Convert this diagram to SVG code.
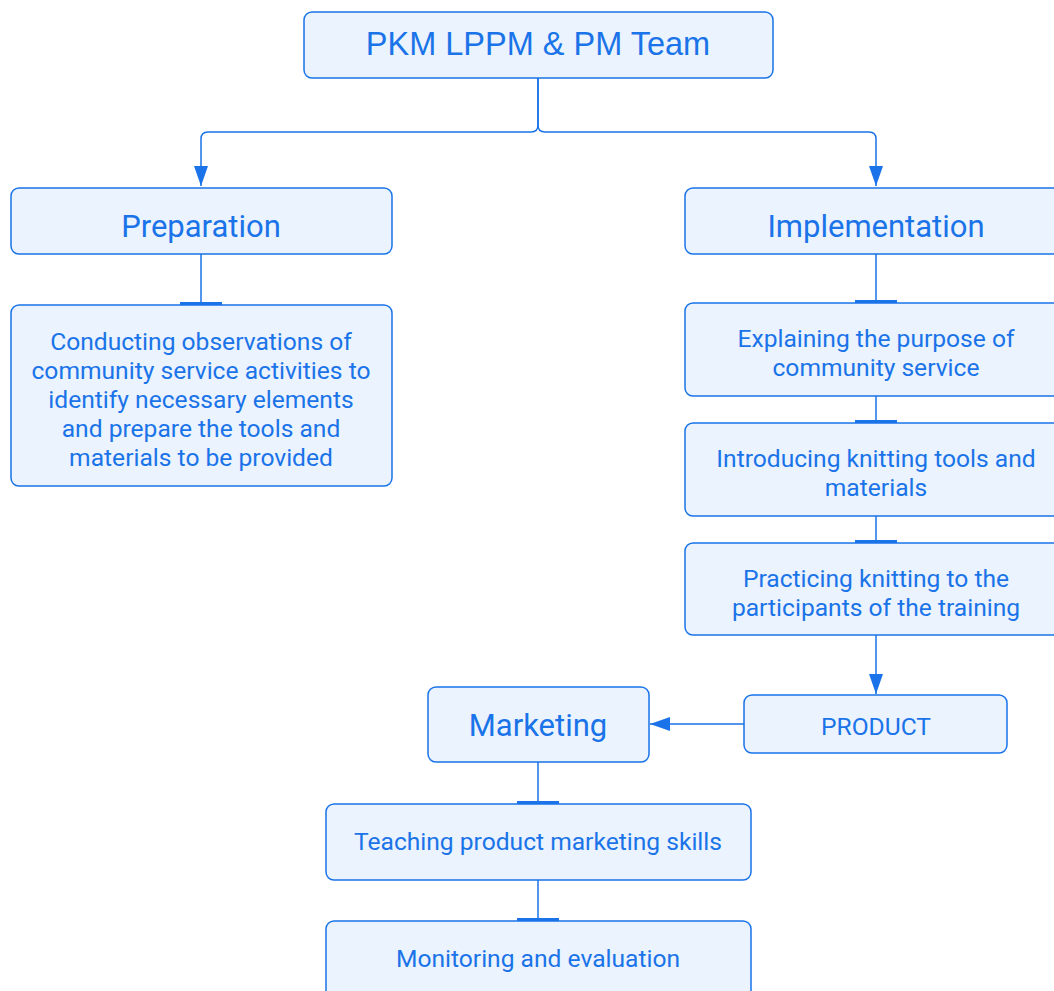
<svg xmlns="http://www.w3.org/2000/svg" width="1054" height="991" viewBox="0 0 1054 991">
<style>
.box{fill:#ebf4fe;stroke:#1a73e8;stroke-width:1.5}
.t{font-family:Roboto,"Liberation Sans",sans-serif;fill:#1a73e8;text-anchor:middle}
.h{font-size:31px}
.b{font-size:24.6px}
.top{font-family:"Liberation Sans",Arial,sans-serif;font-size:32.5px;fill:#1a73e8;text-anchor:middle}
.ln{fill:none;stroke:#1a73e8;stroke-width:1.5}
.tee{stroke:#1a73e8;stroke-width:3}
</style>
<defs>
<marker id="arr" viewBox="0 0 20 14" refX="20" refY="7" markerWidth="20" markerHeight="14" markerUnits="userSpaceOnUse" orient="auto">
<path d="M0,0 L20,7 L0,14 Z" fill="#1a73e8"/>
</marker>
</defs>
<rect width="1054" height="991" fill="#ffffff"/>
<g id="connectors">
<path class="ln" d="M538,78 V125 Q538,132 531,132 H208 Q201,132 201,139 V186" marker-end="url(#arr)"/>
<path class="ln" d="M538,78 V125 Q538,132 545,132 H869 Q876,132 876,139 V186" marker-end="url(#arr)"/>
<path class="ln" d="M201,254 V303"/>
<line class="tee" x1="180" y1="303.5" x2="222" y2="303.5"/>
<path class="ln" d="M876,254 V301"/>
<line class="tee" x1="855" y1="301.5" x2="897" y2="301.5"/>
<path class="ln" d="M876,396 V421"/>
<line class="tee" x1="855" y1="421.5" x2="897" y2="421.5"/>
<path class="ln" d="M876,516 V541"/>
<line class="tee" x1="855" y1="541.5" x2="897" y2="541.5"/>
<path class="ln" d="M876,635 V694" marker-end="url(#arr)"/>
<path class="ln" d="M744,724 H650" marker-end="url(#arr)"/>
<path class="ln" d="M538,762 V802"/>
<line class="tee" x1="517" y1="802.5" x2="559" y2="802.5"/>
<path class="ln" d="M538,880 V919"/>
<line class="tee" x1="517" y1="919.5" x2="559" y2="919.5"/>
</g>
<g id="team">
<rect class="box" x="304" y="12" width="469" height="66" rx="8"/>
<text class="top" x="538" y="55">PKM LPPM &amp; PM Team</text>
</g>
<g id="preparation">
<rect class="box" x="11" y="188" width="381" height="66" rx="8"/>
<text class="t h" x="201" y="237">Preparation</text>
</g>
<g id="prep-detail">
<rect class="box" x="11" y="305" width="381" height="181" rx="8"/>
<text class="t b" x="201" y="350">Conducting observations of</text>
<text class="t b" x="201" y="379">community service activities to</text>
<text class="t b" x="201" y="408">identify necessary elements</text>
<text class="t b" x="201" y="437">and prepare the tools and</text>
<text class="t b" x="201" y="466">materials to be provided</text>
</g>
<g id="implementation">
<rect class="box" x="685" y="188" width="382" height="66" rx="8"/>
<text class="t h" x="876" y="237">Implementation</text>
</g>
<g id="explaining">
<rect class="box" x="685" y="303" width="382" height="93" rx="8"/>
<text class="t b" x="876" y="347">Explaining the purpose of</text>
<text class="t b" x="876" y="376">community service</text>
</g>
<g id="introducing">
<rect class="box" x="685" y="423" width="382" height="93" rx="8"/>
<text class="t b" x="876" y="467">Introducing knitting tools and</text>
<text class="t b" x="876" y="496">materials</text>
</g>
<g id="practicing">
<rect class="box" x="685" y="543" width="382" height="92" rx="8"/>
<text class="t b" x="876" y="587">Practicing knitting to the</text>
<text class="t b" x="876" y="616">participants of the training</text>
</g>
<g id="product">
<rect class="box" x="744" y="695" width="263" height="58" rx="8"/>
<text class="t b" x="876" y="735">PRODUCT</text>
</g>
<g id="marketing">
<rect class="box" x="428" y="687" width="221" height="75" rx="8"/>
<text class="t h" x="538" y="736">Marketing</text>
</g>
<g id="teaching">
<rect class="box" x="326" y="804" width="425" height="76" rx="8"/>
<text class="t b" x="538" y="850">Teaching product marketing skills</text>
</g>
<g id="monitoring">
<rect class="box" x="326" y="921" width="425" height="80" rx="8"/>
<text class="t b" x="538" y="967">Monitoring and evaluation</text>
</g>
</svg>
